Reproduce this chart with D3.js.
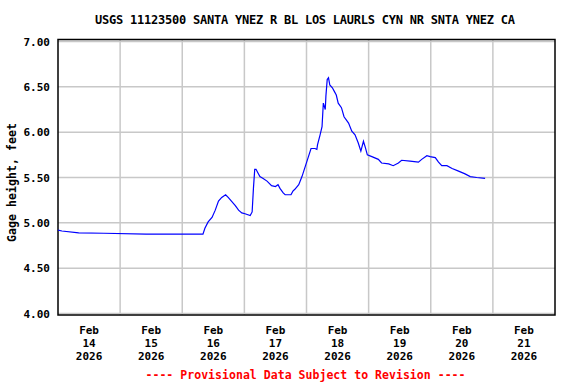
<!DOCTYPE html>
<html>
<head>
<meta charset="utf-8">
<script src="https://cdn.jsdelivr.net/npm/d3@7"></script>
<style>
  body { margin: 0; background: #fff; }
  text { font-family: "DejaVu Sans Mono", monospace; font-weight: bold; }
</style>
</head>
<body>
<script>
var width = 576,
    height = 384;

// gage height readings (time, feet)
var times = [
  "2026-02-14 00:00", "2026-02-14 01:30", "2026-02-14 08:00", "2026-02-14 17:45",
  "2026-02-15 10:00", "2026-02-15 23:15", "2026-02-16 08:00", "2026-02-16 08:45",
  "2026-02-16 10:00", "2026-02-16 11:30", "2026-02-16 12:45", "2026-02-16 14:00",
  "2026-02-16 15:15", "2026-02-16 16:45", "2026-02-16 17:45", "2026-02-16 19:00",
  "2026-02-16 20:30", "2026-02-16 21:45", "2026-02-16 23:00", "2026-02-17 00:15",
  "2026-02-17 02:15", "2026-02-17 03:00", "2026-02-17 03:30", "2026-02-17 04:00",
  "2026-02-17 04:30", "2026-02-17 05:15", "2026-02-17 06:00", "2026-02-17 07:15",
  "2026-02-17 08:45", "2026-02-17 10:30", "2026-02-17 12:00", "2026-02-17 13:00",
  "2026-02-17 13:45", "2026-02-17 15:00", "2026-02-17 15:45", "2026-02-17 18:00",
  "2026-02-17 18:45", "2026-02-17 19:30", "2026-02-17 21:00", "2026-02-17 22:15",
  "2026-02-17 23:30", "2026-02-18 00:45", "2026-02-18 01:45", "2026-02-18 03:15",
  "2026-02-18 04:00", "2026-02-18 04:15", "2026-02-18 05:15", "2026-02-18 06:00",
  "2026-02-18 06:30", "2026-02-18 07:15", "2026-02-18 07:30", "2026-02-18 08:00",
  "2026-02-18 08:30", "2026-02-18 09:00", "2026-02-18 10:00", "2026-02-18 10:45",
  "2026-02-18 11:30", "2026-02-18 12:15", "2026-02-18 13:30", "2026-02-18 14:30",
  "2026-02-18 16:15", "2026-02-18 17:30", "2026-02-18 18:45", "2026-02-18 20:00",
  "2026-02-18 21:00", "2026-02-18 22:00", "2026-02-18 22:45", "2026-02-18 23:30",
  "2026-02-19 01:15", "2026-02-19 03:45", "2026-02-19 05:00", "2026-02-19 07:45",
  "2026-02-19 09:30", "2026-02-19 11:30", "2026-02-19 12:45", "2026-02-19 16:00",
  "2026-02-19 19:15", "2026-02-19 20:30", "2026-02-19 22:30", "2026-02-19 23:45",
  "2026-02-20 01:45", "2026-02-20 03:00", "2026-02-20 04:15", "2026-02-20 06:15",
  "2026-02-20 08:15", "2026-02-20 10:45", "2026-02-20 13:15", "2026-02-20 15:15",
  "2026-02-20 17:45", "2026-02-20 21:00"
];
var gage = [
  4.92, 4.91, 4.89, 4.885,
  4.875, 4.875, 4.875, 4.94,
  5.01, 5.06, 5.14, 5.24,
  5.28, 5.31, 5.28, 5.24,
  5.19, 5.14, 5.11, 5.10,
  5.08, 5.12, 5.38, 5.59,
  5.59, 5.55, 5.51, 5.49,
  5.46, 5.41, 5.40, 5.42,
  5.38, 5.33, 5.31, 5.31,
  5.35, 5.37, 5.42, 5.51,
  5.62, 5.73, 5.82, 5.82,
  5.81, 5.86, 5.97, 6.06,
  6.32, 6.25, 6.40, 6.58,
  6.60, 6.52, 6.49, 6.45,
  6.41, 6.32, 6.27, 6.17,
  6.10, 6.01, 5.97, 5.88,
  5.79, 5.90, 5.83, 5.75,
  5.73, 5.70, 5.66, 5.65,
  5.63, 5.66, 5.69, 5.68,
  5.67, 5.70, 5.74, 5.73,
  5.72, 5.67, 5.63, 5.63,
  5.60, 5.57, 5.54, 5.51,
  5.50, 5.49
];
var yTicks = [4.00, 4.50, 5.00, 5.50, 6.00, 6.50, 7.00];
var dayLabels = ["2026-02-14", "2026-02-15", "2026-02-16", "2026-02-17",
                 "2026-02-18", "2026-02-19", "2026-02-20", "2026-02-21"];

var parseTime = d3.timeParse("%Y-%m-%d %H:%M"),
    parseDay = d3.timeParse("%Y-%m-%d");

var data = times.map(function(t, i) { return { t: parseTime(t), v: gage[i] }; });
var days = dayLabels.map(parseDay);

var plotL = 58, plotR = 555, plotT = 40, plotB = 315;

var x = d3.scaleTime()
    .domain([days[0], d3.timeDay.offset(days[days.length - 1], 1)])
    .range([plotL, plotR]);

var y = d3.scaleLinear()
    .domain([4, 7])
    .range([313.5, 41.5]);

var svg = d3.select("body").append("svg")
    .attr("width", width)
    .attr("height", height);

// grid
var grid = svg.append("g")
    .attr("stroke", "#c8c8c8")
    .attr("stroke-width", 1.5);

grid.selectAll("line.h")
    .data(yTicks)
    .enter().append("line")
    .attr("x1", plotL).attr("x2", plotR)
    .attr("y1", function(d) { return y(d); })
    .attr("y2", function(d) { return y(d); });

grid.selectAll("line.v")
    .data(days.slice(1))
    .enter().append("line")
    .attr("y1", plotT).attr("y2", plotB)
    .attr("x1", function(d) { return x(d); })
    .attr("x2", function(d) { return x(d); });

// frame
svg.append("rect")
    .attr("x", plotL)
    .attr("y", plotT - 0.5)
    .attr("width", plotR - plotL)
    .attr("height", plotB - plotT + 0.5)
    .attr("fill", "none")
    .attr("stroke", "#000")
    .attr("stroke-width", 1.5);

// y axis labels
var yAxis = d3.axisLeft(y)
    .tickValues(yTicks)
    .tickSize(0)
    .tickPadding(8)
    .tickFormat(d3.format(".2f"));

svg.append("g")
    .attr("transform", "translate(" + plotL + ",0)")
    .call(yAxis)
    .call(function(g) { g.select(".domain").remove(); })
    .selectAll("text")
    .attr("font-family", "DejaVu Sans Mono")
    .attr("font-size", 11)
    .attr("font-weight", "bold")
    .attr("fill", "#000");

// x labels, centred on each day
var fmt = [d3.timeFormat("%b"), d3.timeFormat("%d"), d3.timeFormat("%Y")];
var xl = svg.append("g").selectAll("text")
    .data(days)
    .enter().append("text")
    .attr("text-anchor", "middle")
    .attr("font-size", 11);

fmt.forEach(function(f, i) {
  xl.append("tspan")
    .attr("x", function(d) { return x(d3.timeHour.offset(d, 12)); })
    .attr("y", 334 + i * 13)
    .text(function(d) { return f(d); });
});

// series
var line = d3.line()
    .x(function(d) { return x(d.t); })
    .y(function(d) { return y(d.v); });

svg.append("path")
    .datum(data)
    .attr("fill", "none")
    .attr("stroke", "#0000ff")
    .attr("stroke-width", 1.2)
    .attr("d", line);

// title and labels
svg.append("text")
    .attr("x", 305)
    .attr("y", 24)
    .attr("text-anchor", "middle")
    .attr("font-size", 12)
    .attr("textLength", 420)
    .attr("lengthAdjust", "spacing")
    .text("USGS 11123500 SANTA YNEZ R BL LOS LAURLS CYN NR SNTA YNEZ CA");

svg.append("text")
    .attr("transform", "translate(16," + ((plotT + plotB) / 2 + 5) + ") rotate(-90)")
    .attr("text-anchor", "middle")
    .attr("font-size", 11.5)
    .attr("textLength", 119)
    .attr("lengthAdjust", "spacing")
    .text("Gage height, feet");

svg.append("text")
    .attr("x", 305.5)
    .attr("y", 379)
    .attr("text-anchor", "middle")
    .attr("font-size", 11.5)
    .attr("fill", "#ff0000")
    .attr("textLength", 320)
    .attr("lengthAdjust", "spacing")
    .text("---- Provisional Data Subject to Revision ----");
</script>
</body>
</html>
